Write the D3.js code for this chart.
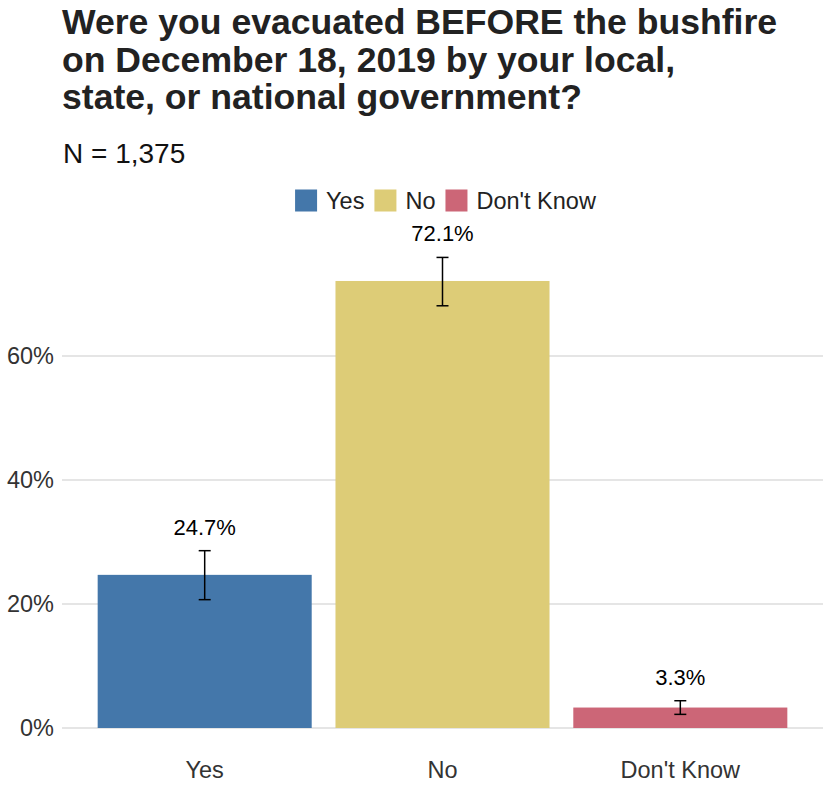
<!DOCTYPE html>
<html>
<head>
<meta charset="utf-8">
<script src="https://cdn.jsdelivr.net/npm/d3@7"></script>
<style>
  body { margin: 0; background: #fff; }
  svg { font-family: "Liberation Sans", Arial, Helvetica, sans-serif; }
</style>
</head>
<body>
<script>
// Chart data
const categories = ["Yes", "No", "Don't Know"];
const values = [24.7, 72.1, 3.3];
const lower = [20.7, 68.1, 2.2];
const upper = [28.6, 75.9, 4.4];
const colors = ["#4477AA", "#DDCC77", "#CC6677"];
const yTicks = [0, 20, 40, 60];

const titleLines = [
  "Were you evacuated BEFORE the bushfire",
  "on December 18, 2019 by your local,",
  "state, or national government?"
];
const subtitle = "N = 1,375";

const data = categories.map((c, i) => ({
  cat: c, value: values[i], lo: lower[i], hi: upper[i], color: colors[i]
}));

const width = 830, height = 805;
const panel = {left: 62, right: 823, bottom: 728};

const svg = d3.select("body")
  .append("svg")
    .attr("width", width)
    .attr("height", height);

// Title and subtitle
svg.append("g").selectAll("text")
  .data(titleLines)
  .enter()
  .append("text")
    .attr("x", 62)
    .attr("y", (d, i) => 34 + i * 37.5)
    .style("font-size", "35.6px")
    .style("font-weight", "bold")
    .style("fill", "#222")
    .text(d => d);

svg.append("text")
    .attr("x", 63)
    .attr("y", 163)
    .style("font-size", "28px")
    .style("fill", "#111")
    .text(subtitle);

// Scales
const x = d3.scalePoint()
    .domain(categories)
    .range([panel.left, panel.right])
    .padding(0.6);
const barW = x.step() * 0.9;

const y = d3.scaleLinear()
    .domain([0, 60])
    .range([panel.bottom, 356]);

// Grid lines + y tick labels
svg.append("g")
  .selectAll("line")
  .data(yTicks)
  .enter()
  .append("line")
    .attr("x1", panel.left)
    .attr("x2", panel.right)
    .attr("y1", d => y(d))
    .attr("y2", d => y(d))
    .style("stroke", "#cccccc")
    .style("stroke-width", 1.2);

svg.append("g")
  .selectAll("text")
  .data(yTicks)
  .enter()
  .append("text")
    .attr("x", 54)
    .attr("y", d => y(d))
    .attr("dy", "0.36em")
    .style("text-anchor", "end")
    .style("font-size", "23.5px")
    .style("fill", "#333")
    .text(d => d + "%");

// Bars
svg.append("g")
  .selectAll("rect")
  .data(data)
  .enter()
  .append("rect")
    .attr("x", d => x(d.cat) - barW / 2)
    .attr("y", d => y(d.value))
    .attr("width", barW)
    .attr("height", d => y(0) - y(d.value))
    .style("fill", d => d.color);

// Error bars
const err = svg.append("g")
  .selectAll("g")
  .data(data)
  .enter()
  .append("g")
    .style("stroke", "#000")
    .style("stroke-width", 1.5);
err.append("line")
    .attr("x1", d => x(d.cat)).attr("x2", d => x(d.cat))
    .attr("y1", d => y(d.lo)).attr("y2", d => y(d.hi));
err.append("line")
    .attr("x1", d => x(d.cat) - 6).attr("x2", d => x(d.cat) + 6)
    .attr("y1", d => y(d.lo)).attr("y2", d => y(d.lo));
err.append("line")
    .attr("x1", d => x(d.cat) - 6).attr("x2", d => x(d.cat) + 6)
    .attr("y1", d => y(d.hi)).attr("y2", d => y(d.hi));

// Value labels
svg.append("g")
  .selectAll("text")
  .data(data)
  .enter()
  .append("text")
    .attr("x", d => x(d.cat))
    .attr("y", d => y(d.hi) - 16)
    .style("text-anchor", "middle")
    .style("font-size", "22px")
    .style("fill", "#000")
    .text(d => d.value.toFixed(1) + "%");

// X labels
svg.append("g")
  .selectAll("text")
  .data(categories)
  .enter()
  .append("text")
    .attr("x", d => x(d))
    .attr("y", 778)
    .style("text-anchor", "middle")
    .style("font-size", "23.5px")
    .style("fill", "#333")
    .text(d => d);

// Legend (centered)
const legend = svg.append("g");
const items = legend.selectAll("g")
  .data(data)
  .enter()
  .append("g");
items.append("rect")
    .attr("width", 22)
    .attr("height", 22)
    .attr("y", 189.5)
    .style("fill", d => d.color);
items.append("text")
    .attr("x", 31)
    .attr("y", 209)
    .style("font-size", "23.5px")
    .style("fill", "#222")
    .text(d => d.cat);

let cx = 0;
const offsets = [];
items.each(function() {
  offsets.push(cx);
  const tw = d3.select(this).select("text").node().getComputedTextLength();
  cx += 31 + tw + 10;
});
const total = cx - 10;
const start = 445.5 - total / 2;
items.attr("transform", (d, i) => "translate(" + (start + offsets[i]) + ",0)");
</script>
</body>
</html>
